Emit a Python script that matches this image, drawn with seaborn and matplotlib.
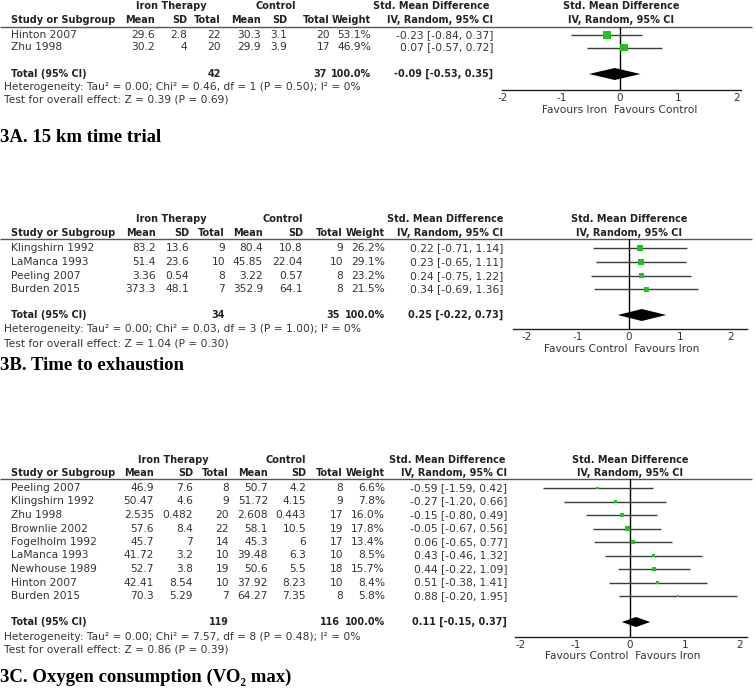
import numpy as np
import pandas as pd
import matplotlib
matplotlib.use('Agg')
import matplotlib.pyplot as plt
import seaborn as sns

# ============================================================
# data
# ============================================================

# 3A. 15 km time trial
a_study = ['Hinton 2007', 'Zhu 1998']
a_iron_mean = ['29.6', '30.2']
a_iron_sd = ['2.8', '4']
a_iron_n = [22, 20]
a_ctrl_mean = ['30.3', '29.9']
a_ctrl_sd = ['3.1', '3.9']
a_ctrl_n = [20, 17]
a_weight = [53.1, 46.9]
a_smd = [-0.23, 0.07]
a_lo = [-0.84, -0.57]
a_hi = [0.37, 0.72]
a_total = [-0.09, -0.53, 0.35]
a_het = 'Heterogeneity: Tau² = 0.00; Chi² = 0.46, df = 1 (P = 0.50); I² = 0%'
a_test = 'Test for overall effect: Z = 0.39 (P = 0.69)'
a_favours = 'Favours Iron  Favours Control'
a_title = '3A. 15 km time trial'

# 3B. Time to exhaustion
b_study = ['Klingshirn 1992', 'LaManca 1993', 'Peeling 2007', 'Burden 2015']
b_iron_mean = ['83.2', '51.4', '3.36', '373.3']
b_iron_sd = ['13.6', '23.6', '0.54', '48.1']
b_iron_n = [9, 10, 8, 7]
b_ctrl_mean = ['80.4', '45.85', '3.22', '352.9']
b_ctrl_sd = ['10.8', '22.04', '0.57', '64.1']
b_ctrl_n = [9, 10, 8, 8]
b_weight = [26.2, 29.1, 23.2, 21.5]
b_smd = [0.22, 0.23, 0.24, 0.34]
b_lo = [-0.71, -0.65, -0.75, -0.69]
b_hi = [1.14, 1.11, 1.22, 1.36]
b_total = [0.25, -0.22, 0.73]
b_het = 'Heterogeneity: Tau² = 0.00; Chi² = 0.03, df = 3 (P = 1.00); I² = 0%'
b_test = 'Test for overall effect: Z = 1.04 (P = 0.30)'
b_favours = 'Favours Control  Favours Iron'
b_title = '3B. Time to exhaustion'

# 3C. Oxygen consumption
c_study = ['Peeling 2007', 'Klingshirn 1992', 'Zhu 1998', 'Brownlie 2002',
           'Fogelholm 1992', 'LaManca 1993', 'Newhouse 1989', 'Hinton 2007',
           'Burden 2015']
c_iron_mean = ['46.9', '50.47', '2.535', '57.6', '45.7', '41.72', '52.7', '42.41', '70.3']
c_iron_sd = ['7.6', '4.6', '0.482', '8.4', '7', '3.2', '3.8', '8.54', '5.29']
c_iron_n = [8, 9, 20, 22, 14, 10, 19, 10, 7]
c_ctrl_mean = ['50.7', '51.72', '2.608', '58.1', '45.3', '39.48', '50.6', '37.92', '64.27']
c_ctrl_sd = ['4.2', '4.15', '0.443', '10.5', '6', '6.3', '5.5', '8.23', '7.35']
c_ctrl_n = [8, 9, 17, 19, 17, 10, 18, 10, 8]
c_weight = [6.6, 7.8, 16.0, 17.8, 13.4, 8.5, 15.7, 8.4, 5.8]
c_smd = [-0.59, -0.27, -0.15, -0.05, 0.06, 0.43, 0.44, 0.51, 0.88]
c_lo = [-1.59, -1.20, -0.80, -0.67, -0.65, -0.46, -0.22, -0.38, -0.20]
c_hi = [0.42, 0.66, 0.49, 0.56, 0.77, 1.32, 1.09, 1.41, 1.95]
c_total = [0.11, -0.15, 0.37]
c_het = 'Heterogeneity: Tau² = 0.00; Chi² = 7.57, df = 8 (P = 0.48); I² = 0%'
c_test = 'Test for overall effect: Z = 0.86 (P = 0.39)'
c_favours = 'Favours Control  Favours Iron'
c_title = '3C. Oxygen consumption (VO₂ max)'

tick_values = [-2, -1, 0, 1, 2]

# ============================================================
# layout (pixel positions on the 756x692 canvas)
# ============================================================
W, H = 756, 692
TXT = '#333333'
LINE = '#3c3c3c'
GREEN = '#1ec41e'
FS = 7.7       # normal table text
FS_B = 7.0     # bold headers

layout_a = dict(head1=6, head2=20, line=27, row0=35, step=12.5, total=74, het=87,
                test=100, title=137, axis=90, zero=620, unit=58.5, left=502,
                right=741, fav=110, fav_x=620, dia=6,
                cols=[155, 187, 221, 261, 287, 330, 371, 493],
                grp=[171, 276, 431, 621])
layout_b = dict(head1=219, head2=233, line=239, row0=248.3, step=13.7, total=315,
                het=329, test=343, title=365, axis=329, zero=629, unit=51,
                left=513, right=747, fav=349, fav_x=622, dia=6,
                cols=[156, 189, 225, 263, 303, 343, 385, 503],
                grp=[171, 283, 445, 629])
layout_c = dict(head1=460, head2=473, line=479, row0=488, step=13.5, total=622,
                het=637, test=650, title=677, axis=637, zero=630, unit=54.7,
                left=515, right=747, fav=656, fav_x=623, dia=5,
                cols=[154, 193, 229, 268, 306, 343, 385, 507],
                grp=[173, 286, 447, 630])


def draw_panel(fig, bg, L, study, im, isd, inn, cm, csd, cn, w, smd, lo, hi,
               total, het, test, favours, title):
    """一个森林图面板：左边表格 + 右边森林图"""
    cols = L['cols']
    grp = L['grp']
    bold = dict(fontsize=FS_B, fontweight='bold', color='#222222', va='center')
    bold2 = dict(fontsize=6.9, fontweight='bold', color='#222222', va='center')
    norm = dict(fontsize=FS, color=TXT, va='center')

    # 表头
    bg.text(grp[0], L['head1'], 'Iron Therapy', ha='center', **bold)
    bg.text(grp[1], L['head1'], 'Control', ha='center', **bold)
    bg.text(grp[2], L['head1'], 'Std. Mean Difference', ha='center', **bold)
    bg.text(grp[3], L['head1'], 'Std. Mean Difference', ha='center', **bold)
    bg.text(11, L['head2'], 'Study or Subgroup', ha='left', **bold)
    for x, lab in zip(cols[:7], ['Mean', 'SD', 'Total', 'Mean', 'SD', 'Total', 'Weight']):
        bg.text(x, L['head2'], lab, ha='right', **bold)
    bg.text(cols[7], L['head2'], 'IV, Random, 95% CI', ha='right', **bold)
    bg.text(grp[3], L['head2'], 'IV, Random, 95% CI', ha='center', **bold)
    bg.hlines(L['line'], 0, 752, color='#555555', lw=1.0)

    # 每个研究一行
    df = pd.DataFrame({'study': study, 'im': im, 'isd': isd, 'in': inn,
                       'cm': cm, 'csd': csd, 'cn': cn, 'w': w,
                       'smd': smd, 'lo': lo, 'hi': hi})
    df['row'] = np.arange(len(df))
    for _, r in df.iterrows():
        y = L['row0'] + r['row'] * L['step']
        bg.text(11, y, r['study'], ha='left', **norm)
        vals = [r['im'], r['isd'], str(r['in']), r['cm'], r['csd'], str(r['cn']),
                f"{r['w']:.1f}%",
                f"{r['smd']:.2f} [{r['lo']:.2f}, {r['hi']:.2f}]"]
        for x, v in zip(cols, vals):
            bg.text(x, y, v, ha='right', **norm)

    # 合计行
    bg.text(11, L['total'], 'Total (95% CI)', ha='left', **bold2)
    bg.text(cols[2], L['total'], str(sum(inn)), ha='right', **bold2)
    bg.text(cols[5] - 3, L['total'], str(sum(cn)), ha='right', **bold2)
    bg.text(cols[6], L['total'], f'{sum(w):.1f}%', ha='right', **bold2)
    bg.text(cols[7], L['total'],
            f'{total[0]:.2f} [{total[1]:.2f}, {total[2]:.2f}]', ha='right', **bold2)
    bg.text(4, L['het'], het, ha='left', **norm)
    bg.text(4, L['test'], test, ha='left', **norm)
    bg.text(0, L['title'], title, ha='left', va='center', fontsize=13.5,
            fontweight='bold', color='black',
            family=['Liberation Serif', 'DejaVu Serif'])
    bg.text(L['fav_x'], L['fav'], favours, ha='center', **norm)

    # 森林图坐标轴
    ax = fig.add_axes([L['left'] / W, 1 - L['axis'] / H,
                       (L['right'] - L['left']) / W, (L['axis'] - L['line']) / H])
    ax.set_facecolor('none')
    ax.set_xlim((L['left'] - L['zero']) / L['unit'], (L['right'] - L['zero']) / L['unit'])
    ax.set_ylim((L['axis'] - L['row0']) / L['step'], (L['line'] - L['row0']) / L['step'])
    ax.axvline(0, color='black', lw=1.0, zorder=1)
    ax.hlines(df['row'], df['lo'], df['hi'], color=LINE, lw=1.0, zorder=2)

    # 方块面积与权重成正比
    k = (1.1 * 0.72) ** 2
    sns.scatterplot(data=df, x='smd', y='row', size='w',
                    sizes=(k * min(w), k * max(w)), size_norm=(min(w), max(w)),
                    marker='s', color=GREEN, edgecolor='none', linewidth=0,
                    legend=False, ax=ax, zorder=3)

    # 合计菱形
    ty = (L['total'] - L['row0']) / L['step']
    dh = L['dia'] / L['step']
    ax.fill([total[1], total[0], total[2], total[0]],
            [ty, ty - dh, ty, ty + dh], color='black', lw=0, zorder=4)

    ax.set_xticks(tick_values)
    ax.set_xticklabels([str(t) for t in tick_values])
    ax.set_yticks([])
    ax.set_xlabel('')
    ax.set_ylabel('')
    for s in ['top', 'left', 'right']:
        ax.spines[s].set_visible(False)
    ax.spines['bottom'].set_color('#222222')
    ax.spines['bottom'].set_linewidth(1.0)
    ax.tick_params(axis='x', direction='inout', length=7, width=0.9,
                   labelsize=7.5, pad=-1.5, colors='#222222', labelcolor=TXT)
    return ax


sns.set_theme(style='white')
plt.rcParams['font.family'] = ['DejaVu Sans']

fig = plt.figure(figsize=(W / 100, H / 100), dpi=100)
bg = fig.add_axes([0, 0, 1, 1])
bg.set_xlim(0, W)
bg.set_ylim(H, 0)
bg.axis('off')

draw_panel(fig, bg, layout_a, a_study, a_iron_mean, a_iron_sd, a_iron_n,
           a_ctrl_mean, a_ctrl_sd, a_ctrl_n, a_weight, a_smd, a_lo, a_hi,
           a_total, a_het, a_test, a_favours, a_title)
draw_panel(fig, bg, layout_b, b_study, b_iron_mean, b_iron_sd, b_iron_n,
           b_ctrl_mean, b_ctrl_sd, b_ctrl_n, b_weight, b_smd, b_lo, b_hi,
           b_total, b_het, b_test, b_favours, b_title)
draw_panel(fig, bg, layout_c, c_study, c_iron_mean, c_iron_sd, c_iron_n,
           c_ctrl_mean, c_ctrl_sd, c_ctrl_n, c_weight, c_smd, c_lo, c_hi,
           c_total, c_het, c_test, c_favours, c_title)

fig.savefig('out.png', dpi=100)
